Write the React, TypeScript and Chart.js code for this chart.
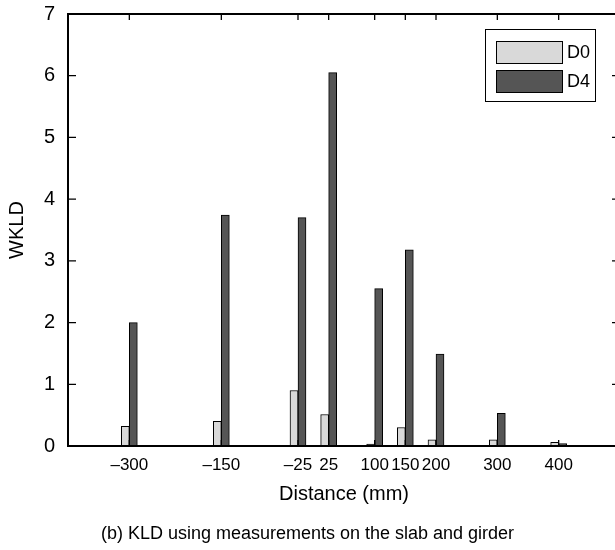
import React, { useEffect, useRef } from 'react';
import { Chart, registerables } from 'chart.js';

Chart.register(...registerables);

// ---- data ----
const distances = [-300, -150, -25, 25, 100, 150, 200, 300, 400];
const xTickLabels = ['–300', '–150', '–25', '25', '100', '150', '200', '300', '400'];
const d0Values = [0.32, 0.4, 0.9, 0.51, 0.03, 0.3, 0.1, 0.1, 0.06];
const d4Values = [2.0, 3.74, 3.7, 6.05, 2.55, 3.18, 1.49, 0.53, 0.04];
const yTickValues = [0, 1, 2, 3, 4, 5, 6, 7];
const seriesLabels = ['D0', 'D4'];
const seriesColors = ['#d9d9d9', '#555555'];
const xTitle = 'Distance (mm)';
const yTitle = 'WKLD';
const caption = '(b) KLD using measurements on the slab and girder';

const FONT = "'Liberation Sans', Arial, Helvetica, sans-serif";
const NARROW = "'Liberation Sans Narrow', 'Liberation Sans', Arial, sans-serif";

const framePlugin = {
  id: 'frameAndLegend',
  afterDraw(chart: any) {
    const { ctx, chartArea } = chart;
    const { left, right, top, bottom } = chartArea;
    const xs = chart.scales.x;
    const ys = chart.scales.y;
    ctx.save();
    ctx.strokeStyle = '#000';
    ctx.lineWidth = 2;
    ctx.beginPath();
    ctx.moveTo(left, top);
    ctx.lineTo(right, top);
    ctx.lineTo(right, bottom);
    ctx.lineTo(left, bottom);
    ctx.closePath();
    ctx.stroke();

    ctx.lineWidth = 1.3;
    ctx.beginPath();
    ys.ticks.forEach((t: any) => {
      const py = ys.getPixelForValue(t.value);
      ctx.moveTo(left, py);
      ctx.lineTo(left + 8, py);
      ctx.moveTo(right, py);
      ctx.lineTo(right - 8, py);
    });
    xs.ticks.forEach((t: any) => {
      const px = xs.getPixelForValue(t.value);
      ctx.moveTo(px, top);
      ctx.lineTo(px, top + 6);
      ctx.moveTo(px, bottom);
      ctx.lineTo(px, bottom - 6);
    });
    ctx.stroke();

    // legend box
    const bx = 485.5, by = 29.5, bw = 110, bh = 72;
    ctx.fillStyle = '#fff';
    ctx.fillRect(bx, by, bw, bh);
    ctx.lineWidth = 1;
    ctx.strokeStyle = '#000';
    ctx.strokeRect(bx, by, bw, bh);
    const ds = chart.data.datasets;
    ds.forEach((d: any, i: number) => {
      const sy = 41.5 + i * 29;
      ctx.fillStyle = d.backgroundColor;
      ctx.fillRect(496.5, sy, 66, 22);
      ctx.strokeStyle = '#000';
      ctx.strokeRect(496.5, sy, 66, 22);
      ctx.fillStyle = '#000';
      ctx.font = `18px ${FONT}`;
      ctx.textAlign = 'left';
      ctx.textBaseline = 'middle';
      ctx.fillText(d.label, 567, sy + 11.5);
    });
    ctx.restore();
  },
};

export default function App() {
  const ref = useRef<HTMLCanvasElement | null>(null);

  useEffect(() => {
    if (!ref.current) return;
    const chart = new Chart(ref.current, {
      type: 'bar',
      data: {
        datasets: [
          {
            label: seriesLabels[0],
            data: distances.map((d, i) => ({ x: d, y: d0Values[i] })),
            backgroundColor: seriesColors[0],
            borderColor: '#000',
            borderWidth: 1,
            barThickness: 8,
          },
          {
            label: seriesLabels[1],
            data: distances.map((d, i) => ({ x: d, y: d4Values[i] })),
            backgroundColor: seriesColors[1],
            borderColor: '#000',
            borderWidth: 1,
            barThickness: 8,
          },
        ],
      },
      options: {
        responsive: false,
        animation: false,
        devicePixelRatio: 1,
        layout: { padding: { top: 14, left: 0, right: 1, bottom: 40 } },
        plugins: {
          legend: { display: false },
          tooltip: { enabled: false },
        },
        scales: {
          x: {
            type: 'linear',
            min: -400,
            max: 500,
            offset: false,
            afterBuildTicks: (s: any) => {
              s.ticks = distances.map((v) => ({ value: v }));
            },
            afterFit: (s: any) => {
              s.height = 64;
              s.paddingLeft = 0;
              s.paddingRight = 0;
            },
            grid: { display: false, drawTicks: false },
            border: { display: false },
            ticks: {
              autoSkip: false,
              maxRotation: 0,
              minRotation: 0,
              padding: 9,
              color: '#000',
              font: { family: NARROW, size: 17 },
              callback: (v: any) => xTickLabels[distances.indexOf(Number(v))],
            },
            title: {
              display: true,
              text: xTitle,
              color: '#000',
              font: { family: FONT, size: 20 },
              padding: { top: 4, bottom: 4 },
            },
          },
          y: {
            type: 'linear',
            min: 0,
            max: 7,
            afterBuildTicks: (s: any) => {
              s.ticks = yTickValues.map((v) => ({ value: v }));
            },
            afterFit: (s: any) => {
              s.width = 68;
              s.paddingTop = 0;
              s.paddingBottom = 0;
            },
            grid: { display: false, drawTicks: false },
            border: { display: false },
            ticks: {
              padding: 13,
              color: '#000',
              font: { family: FONT, size: 20 },
            },
            title: {
              display: true,
              text: yTitle,
              color: '#000',
              font: { family: FONT, size: 20 },
              padding: { top: 5, bottom: 0 },
            },
          },
        },
      } as any,
      plugins: [framePlugin],
    });
    return () => chart.destroy();
  }, []);

  return (
    <div style={{ position: 'absolute', left: 0, top: 0, width: 615, height: 550, overflow: 'hidden', background: '#fff' }}>
      <canvas ref={ref} width={621} height={550} style={{ display: 'block' }} />
      <div
        style={{
          position: 'absolute',
          left: 0,
          top: 522,
          width: 615,
          textAlign: 'center',
          fontFamily: FONT,
          fontSize: 18,
          lineHeight: '22px',
          color: '#000',
        }}
      >
        {caption}
      </div>
    </div>
  );
}
